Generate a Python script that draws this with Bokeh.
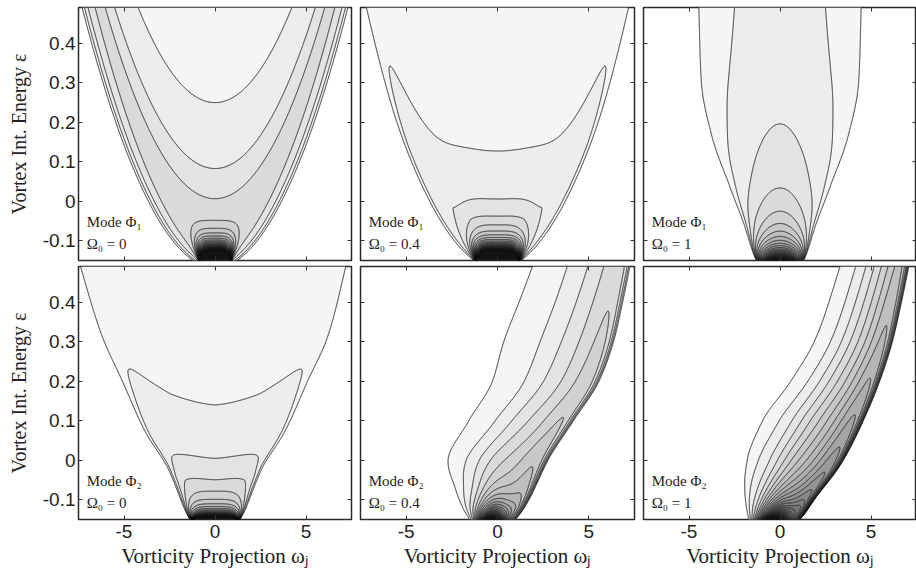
import numpy as np
from bokeh.plotting import figure
from bokeh.layouts import row, column
from bokeh.models import LinearAxis, Label, FixedTicker, Range1d
from bokeh.embed import file_html
from bokeh.resources import INLINE

# ---------------- chart values ----------------
OMEGA_LIM = [-7.5, 7.5]
EPS_LIM = [-0.15, 0.49]
X_TICKS = [-5, 0, 5]
X_TICK_TEXT = ["-5", "0", "5"]
Y_TICKS = [-0.1, 0.0, 0.1, 0.2, 0.3, 0.4]
Y_TICK_TEXT = ["-0.1", "0", "0.1", "0.2", "0.3", "0.4"]
MODE_TEXT = ["Mode Φ₁", "Mode Φ₁", "Mode Φ₁", "Mode Φ₂", "Mode Φ₂", "Mode Φ₂"]
OMEGA0_TEXT = ["Ω₀ = 0", "Ω₀ = 0.4", "Ω₀ = 1", "Ω₀ = 0", "Ω₀ = 0.4", "Ω₀ = 1"]
Y_TITLE = "Vortex Int. Energy ε"
X_TITLE = "Vorticity Projection ωⱼ"

EPS_VERTEX = -0.17
# outer edge of each distribution: energies and vorticities
LEFT_EPS = [
    [-0.15, -0.1, 0.0, 0.2, 0.49],
    [-0.15, -0.1, 0.0, 0.2, 0.49],
    [-0.15, -0.066, 0.036, 0.17, 0.3, 0.49],
    [-0.15, -0.025, 0.076, 0.2, 0.31, 0.49],
    [-0.15, -0.07, 0.0, 0.1, 0.2, 0.3, 0.4, 0.49],
    [-0.15, -0.05, 0.0, 0.1, 0.2, 0.3, 0.49],
]
LEFT_OMEGA = [
    [-1.3, -2.42, -3.76, -5.55, -7.4],
    [-1.35, -2.45, -3.8, -5.6, -7.3],
    [-1.3, -2.0, -2.9, -4.0, -4.6, -4.8],
    [-1.37, -2.6, -3.96, -5.2, -6.3, -7.55],
    [-1.6, -2.5, -2.95, -1.9, -0.7, -0.2, 0.5, 1.1],
    [-1.8, -2.1, -2.0, -1.2, 0.3, 1.55, 2.9],
]
RIGHT_EPS = [
    [-0.15, -0.1, 0.0, 0.2, 0.49],
    [-0.15, -0.1, 0.0, 0.2, 0.49],
    [-0.15, -0.066, 0.036, 0.17, 0.3, 0.49],
    [-0.15, -0.025, 0.076, 0.2, 0.31, 0.49],
    [-0.15, -0.1, 0.0, 0.1, 0.2, 0.3, 0.4, 0.49],
    [-0.15, -0.1, 0.0, 0.1, 0.2, 0.3, 0.4, 0.49],
]
RIGHT_OMEGA = [
    [1.3, 2.42, 3.76, 5.55, 7.4],
    [1.35, 2.45, 3.8, 5.6, 7.3],
    [1.3, 2.0, 2.9, 4.0, 4.6, 4.8],
    [1.37, 2.6, 3.96, 5.2, 6.3, 7.35],
    [1.0, 1.75, 2.8, 4.2, 5.6, 6.4, 6.9, 7.3],
    [1.1, 1.9, 3.5, 4.6, 5.5, 6.2, 6.7, 7.1],
]

# density-shape parameters for each panel
SMOOTH_K = [0.998, 1.04, 0.0, 1.17, 0.757, 0.757]
SMOOTH_POW = [0.8, 0.45, 0.5, 0.44, 0.28, 0.28]
CURV = [0.0135, 0.0061, 0.0, 0.011, 0.0, 0.0]
CURV_POW = [2.0, 2.2, 2.0, 1.5, 2.0, 2.0]
U_FLOOR = [0.148, 0.11, 0.05, 0.095, 0.05, 0.05]
BASE = [1.0, 1.0, 0.0, 1.0, 1.1, 1.25]
RAMP = [0.0, 0.0, 0.0, 0.0, 6.5, 11.1]
RAMP_POW = [1.0, 1.0, 1.0, 1.0, 2.2, 2.0]
CORE_EPS = [-0.152, -0.152, -0.17, -0.152, -0.17, -0.17]
CORE_K = [0.02, 0.019, 0.293, 0.09, 0.093, 0.093]
CORE_POW = [2.0, 2.0, 1.2, 1.2, 1.5, 1.5]
CORE_CUT = [0.117, 0.69, 1e6, 0.32, 1e6, 1e6]
CORE_C = [0.0, 0.0, 2.02, 0.0, 0.0, 0.0]
CORE_W = [0.44, 0.6, 1.1, 0.95, 0.5, 0.5]
CORE_SHAPE = [4, 4, 2, 4, 2, 2]
EDGE_L = [0.4, 0.2, 0.2, 0.18, 0.2, 0.2]
EDGE_R = [0.4, 0.2, 0.2, 0.18, 0.3, 0.25]

LEVELS = list(range(1, 41))
GRAY_TOP = 245
GRAY_STEP = 9

# ---------------- field ----------------
w = np.linspace(OMEGA_LIM[0], OMEGA_LIM[1], 601)
e = np.linspace(EPS_LIM[0], EPS_LIM[1], 481)
W, E = np.meshgrid(w, e)


def pchip(xk, yk, xq):
    xk = np.asarray(xk, float)
    yk = np.asarray(yk, float)
    n = len(xk)
    h = np.diff(xk)
    d = np.diff(yk) / h
    m = np.zeros(n)
    m[0], m[-1] = d[0], d[-1]
    for k in range(1, n - 1):
        if d[k - 1] * d[k] > 0:
            w1 = 2 * h[k] + h[k - 1]
            w2 = h[k] + 2 * h[k - 1]
            m[k] = (w1 + w2) / (w1 / d[k - 1] + w2 / d[k])
    idx = np.clip(np.searchsorted(xk, xq) - 1, 0, n - 2)
    hh = h[idx]
    t = (xq - xk[idx]) / hh
    h00 = 2 * t ** 3 - 3 * t ** 2 + 1
    h10 = t ** 3 - 2 * t ** 2 + t
    h01 = -2 * t ** 3 + 3 * t ** 2
    h11 = t ** 3 - t ** 2
    return h00 * yk[idx] + h10 * hh * m[idx] + h01 * yk[idx + 1] + h11 * hh * m[idx + 1]


def edge_curve(eps_k, om_k, eps):
    s_k = np.sqrt(np.array(eps_k) - EPS_VERTEX)
    return pchip(s_k, om_k, np.sqrt(eps - EPS_VERTEX))


def field(i):
    x = E - EPS_VERTEX
    L = edge_curve(LEFT_EPS[i], LEFT_OMEGA[i], E)
    R = edge_curve(RIGHT_EPS[i], RIGHT_OMEGA[i], E)
    half = (R - L) / 2
    mid = (R + L) / 2
    dl = np.clip(W - L, 0, None)
    dr = np.clip(R - W, 0, None)
    el = 1 - np.exp(-dl / EDGE_L[i])
    er = 1 - np.exp(-dr / EDGE_R[i])
    t = dl / (R - L)
    u = np.maximum(x - CURV[i] * np.abs(W - mid) ** CURV_POW[i], U_FLOOR[i])
    smooth = SMOOTH_K[i] * u ** (-SMOOTH_POW[i]) * (BASE[i] + RAMP[i] * t ** RAMP_POW[i])
    xc = np.maximum(E - CORE_EPS[i], 0.003)
    amp = CORE_K[i] * np.maximum(xc ** (-CORE_POW[i]) - CORE_CUT[i] ** (-CORE_POW[i]), 0) + CORE_C[i]
    core = amp * np.exp(-np.abs((W - mid) / (CORE_W[i] * half)) ** CORE_SHAPE[i])
    return el * er * (smooth + core)


levels = LEVELS + [1e9]
fills = []
for k in range(len(LEVELS)):
    g = max(GRAY_TOP - GRAY_STEP * k, 20)
    fills.append("#%02x%02x%02x" % (g, g, g))

FRAME_W = [273, 274, 273]
BORDER_L = [78, 5, 5]
BORDER_R = [4, 4, 0]
BORDER_T = [7, 3]
BORDER_B = [3, 54]

TICK_FONT = "Liberation Sans"
SERIF = "Liberation Serif"


def style_axis(ax, ticks, texts, show):
    ax.ticker = FixedTicker(ticks=ticks)
    ax.major_label_overrides = {tk: tx for tk, tx in zip(ticks, texts)}
    ax.major_tick_in = 4
    ax.major_tick_out = 0
    ax.minor_tick_line_color = None
    ax.axis_line_color = None
    ax.major_tick_line_color = "#333333"
    ax.major_tick_line_width = 1
    if show:
        ax.major_label_text_font = TICK_FONT
        ax.major_label_text_font_size = "19px"
        ax.major_label_text_color = "#222222"
    else:
        ax.major_label_text_font_size = "0px"
        ax.major_label_text_color = None
        ax.major_label_standoff = 0


figs = []
for i in range(6):
    r, c = divmod(i, 3)
    f = figure(frame_width=FRAME_W[c], frame_height=253,
               x_range=Range1d(*OMEGA_LIM), y_range=Range1d(*EPS_LIM),
               output_backend="svg", toolbar_location=None,
               x_axis_location=None, y_axis_location=None,
               min_border_left=BORDER_L[c], min_border_right=BORDER_R[c],
               min_border_top=BORDER_T[r], min_border_bottom=BORDER_B[r])
    f.grid.visible = False
    f.outline_line_color = "#2a2a2a"
    f.outline_line_width = 1.5
    f.background_fill_color = "white"
    f.border_fill_color = "white"

    Z = field(i)
    f.contour(w, e, Z, levels=levels, fill_color=fills,
              line_color="#1a1a1a", line_width=0.9)

    bottom = LinearAxis()
    style_axis(bottom, X_TICKS, X_TICK_TEXT, r == 1)
    left = LinearAxis()
    style_axis(left, Y_TICKS, Y_TICK_TEXT, c == 0)
    top = LinearAxis()
    style_axis(top, X_TICKS, X_TICK_TEXT, False)
    right = LinearAxis()
    style_axis(right, Y_TICKS, Y_TICK_TEXT, False)

    if c == 0:
        left.major_label_standoff = 3
        left.axis_label = Y_TITLE
        left.axis_label_text_font = SERIF
        left.axis_label_text_font_size = "20px"
        left.axis_label_text_font_style = "normal"
        left.axis_label_text_color = "#222222"
        left.axis_label_standoff = 10
    if r == 1:
        bottom.major_label_standoff = 5
        bottom.axis_label = X_TITLE
        bottom.axis_label_text_font = SERIF
        bottom.axis_label_text_font_size = "21px"
        bottom.axis_label_text_font_style = "normal"
        bottom.axis_label_text_color = "#222222"
        bottom.axis_label_standoff = 3

    f.add_layout(bottom, "below")
    f.add_layout(left, "left")
    f.add_layout(top, "above")
    f.add_layout(right, "right")

    f.add_layout(Label(x=-7.05, y=-0.074, text=MODE_TEXT[i], text_font=SERIF,
                       text_font_size="15px", text_color="#222222"))
    f.add_layout(Label(x=-7.05, y=-0.128, text=OMEGA0_TEXT[i], text_font=SERIF,
                       text_font_size="15px", text_color="#222222"))
    figs.append(f)

layout = column(row(*figs[:3], spacing=0), row(*figs[3:], spacing=0), spacing=0)
open("out.html", "w").write(file_html(layout, INLINE))
